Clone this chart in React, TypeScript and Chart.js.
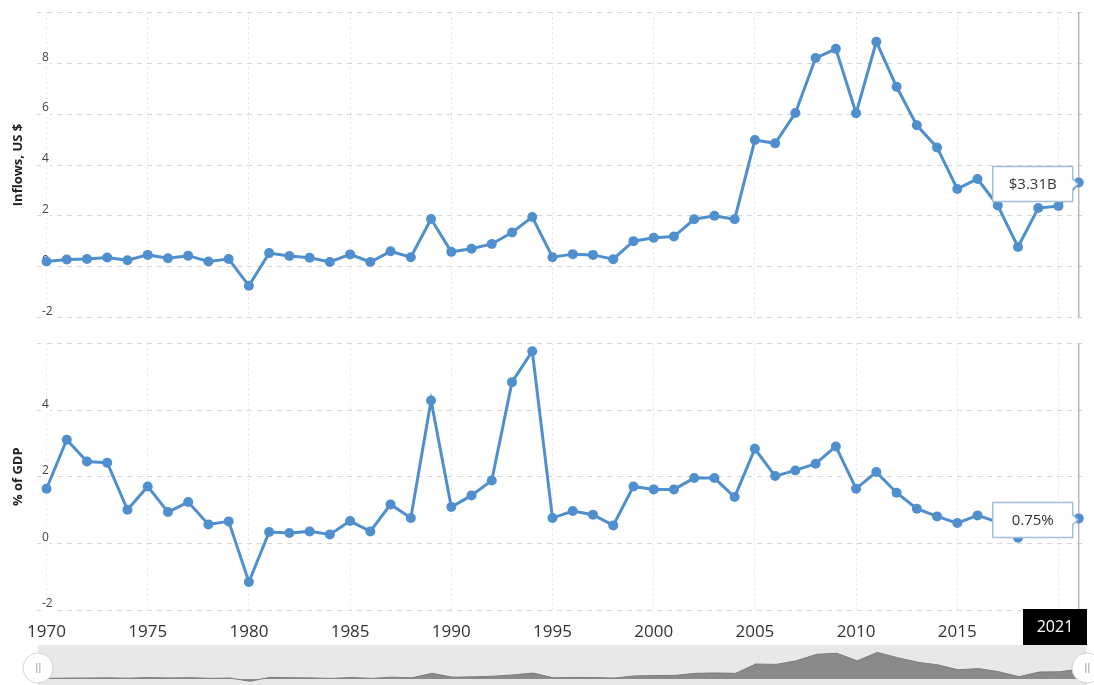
import React, { useEffect, useRef } from 'react';
import { Chart, registerables } from 'chart.js';

Chart.register(...registerables);

const years = [
  1970, 1971, 1972, 1973, 1974, 1975, 1976, 1977, 1978, 1979,
  1980, 1981, 1982, 1983, 1984, 1985, 1986, 1987, 1988, 1989,
  1990, 1991, 1992, 1993, 1994, 1995, 1996, 1997, 1998, 1999,
  2000, 2001, 2002, 2003, 2004, 2005, 2006, 2007, 2008, 2009,
  2010, 2011, 2012, 2013, 2014, 2015, 2016, 2017, 2018, 2019,
  2020, 2021,
];

// FDI inflows, billions of US $
const inflowsB = [
  0.21, 0.29, 0.31, 0.37, 0.26, 0.47, 0.34, 0.44, 0.21, 0.31,
  -0.74, 0.54, 0.43, 0.36, 0.19, 0.49, 0.19, 0.61, 0.38, 1.88,
  0.59, 0.71, 0.9, 1.35, 1.96, 0.38, 0.5, 0.47, 0.3, 1.01,
  1.14, 1.19, 1.87, 2.01, 1.87, 4.98, 4.85, 6.04, 8.2, 8.56,
  6.03, 8.84, 7.07, 5.56, 4.69, 3.06, 3.45, 2.41, 0.78, 2.31,
  2.39, 3.31,
];

// FDI inflows, % of GDP
const gdpPct = [
  1.64, 3.11, 2.46, 2.42, 1.01, 1.71, 0.94, 1.24, 0.57, 0.66,
  -1.16, 0.34, 0.31, 0.36, 0.27, 0.67, 0.36, 1.17, 0.76, 4.29,
  1.09, 1.44, 1.89, 4.84, 5.77, 0.76, 0.97, 0.86, 0.54, 1.71,
  1.62, 1.62, 1.96, 1.96, 1.39, 2.84, 2.02, 2.19, 2.39, 2.91,
  1.64, 2.14, 1.52, 1.04, 0.81, 0.61, 0.84, 0.64, 0.17, 0.51,
  0.54, 0.75,
];

const xTickYears = [1970, 1975, 1980, 1985, 1990, 1995, 2000, 2005, 2010, 2015];
const xGridYears = [1970, 1975, 1980, 1985, 1990, 1995, 2000, 2005, 2010, 2015, 2020];
const lastYearLabel = '2021';
const topYTicks = [-2, 0, 2, 4, 6, 8, 10];
const bottomYTicks = [-2, 0, 2, 4, 6];

const LINE = '#4f8fce';
const FONT = "'Open Sans', 'DejaVu Sans', sans-serif";
const W = 1094;
const X_MIN = 1969.53;
const X_MAX = 2021.36;

const toPoints = (vals: number[]) => years.map((y, i) => ({ x: y, y: vals[i] }));

const crosshairPlugin = {
  id: 'crosshair',
  beforeDatasetsDraw(chart: any) {
    const meta = chart.getDatasetMeta(0);
    const pt = meta.data[meta.data.length - 1];
    const { ctx, chartArea } = chart;
    ctx.save();
    ctx.strokeStyle = '#b8b8b8';
    ctx.lineWidth = 1.5;
    ctx.beginPath();
    ctx.moveTo(pt.x, chartArea.top);
    ctx.lineTo(pt.x, chartArea.bottom);
    ctx.stroke();
    ctx.restore();
  },
};

const makeValueBox = (fmt: (v: number) => string) => ({
  id: 'valueBox',
  afterDatasetsDraw(chart: any) {
    const meta = chart.getDatasetMeta(0);
    const idx = meta.data.length - 1;
    const pt = meta.data[idx];
    const v = chart.data.datasets[0].data[idx].y;
    const { ctx } = chart;
    const right = pt.x - 6;
    const left = right - 80;
    const top = pt.y - 16;
    const bottom = pt.y + 19;
    const mid = (top + bottom) / 2;
    ctx.save();
    ctx.beginPath();
    ctx.moveTo(left, top);
    ctx.lineTo(right, top);
    ctx.lineTo(right, mid - 5);
    ctx.lineTo(right + 5, mid);
    ctx.lineTo(right, mid + 5);
    ctx.lineTo(right, bottom);
    ctx.lineTo(left, bottom);
    ctx.closePath();
    ctx.fillStyle = '#ffffff';
    ctx.fill();
    ctx.strokeStyle = '#a3bfdc';
    ctx.lineWidth = 1.5;
    ctx.stroke();
    ctx.fillStyle = '#333333';
    ctx.font = `15px ${FONT}`;
    ctx.textAlign = 'center';
    ctx.textBaseline = 'middle';
    ctx.fillText(fmt(v), (left + right) / 2, mid + 1);
    ctx.restore();
  },
});

const yearBoxPlugin = {
  id: 'yearBox',
  afterDraw(chart: any) {
    const meta = chart.getDatasetMeta(0);
    const pt = meta.data[meta.data.length - 1];
    const { ctx, chartArea } = chart;
    const right = Math.min(pt.x + 9, chart.width - 7);
    const left = right - 64;
    const top = chartArea.bottom - 1;
    const h = 36;
    ctx.save();
    ctx.fillStyle = '#000000';
    ctx.fillRect(left, top, right - left, h);
    ctx.fillStyle = '#ffffff';
    ctx.font = `16px ${FONT}`;
    ctx.textAlign = 'center';
    ctx.textBaseline = 'middle';
    ctx.fillText(lastYearLabel, (left + right) / 2, top + h / 2);
    ctx.restore();
  },
};

function panelOptions(yMin: number, yMax: number, yTicks: number[], title: string, padTop: number, showX: boolean) {
  return {
    responsive: false,
    maintainAspectRatio: false,
    animation: false,
    layout: { padding: { top: padTop, right: 8, bottom: 0, left: 0 } },
    plugins: { legend: { display: false }, tooltip: { enabled: false } },
    scales: {
      x: {
        type: 'linear',
        min: X_MIN,
        max: X_MAX,
        afterBuildTicks: (s: any) => {
          s.ticks = xGridYears.map((v) => ({ value: v }));
        },
        afterFit: (s: any) => {
          s.height = showX ? 35 : 10;
        },
        grid: { color: '#e4e4e4', lineWidth: 1, drawTicks: false },
        border: { display: false, dash: [2, 3] },
        ticks: {
          display: showX,
          padding: 12,
          color: '#333333',
          font: { family: FONT, size: 17 },
          maxRotation: 0,
          autoSkip: false,
          callback: (v: number) => (xTickYears.includes(v) ? String(v) : ''),
        },
      },
      y: {
        min: yMin,
        max: yMax,
        afterBuildTicks: (s: any) => {
          s.ticks = yTicks.map((v) => ({ value: v }));
        },
        afterFit: (s: any) => {
          s.width = 37;
        },
        grid: { color: '#d6d6d6', lineWidth: 1, drawTicks: false },
        border: { display: false, dash: [5, 5] },
        ticks: {
          mirror: true,
          padding: 5,
          labelOffset: -6,
          color: '#444444',
          font: { family: FONT, size: 12 },
          showLabelBackdrop: true,
          backdropColor: '#ffffff',
          backdropPadding: 1,
          callback: (v: number) => (v === yMax ? '' : String(v)),
        },
        title: {
          display: true,
          text: title,
          color: '#222222',
          font: { family: FONT, size: 13, weight: 'bold' },
          padding: { top: 10, bottom: 0 },
        },
      },
    },
  };
}

function lineDataset(vals: number[]) {
  return {
    data: toPoints(vals),
    borderColor: LINE,
    backgroundColor: LINE,
    borderWidth: 3,
    pointRadius: 5,
    pointBackgroundColor: LINE,
    pointBorderColor: LINE,
    pointBorderWidth: 0,
    tension: 0,
  };
}

const navPlugin = {
  id: 'navBg',
  beforeDraw(chart: any) {
    const { ctx, chartArea } = chart;
    ctx.save();
    ctx.fillStyle = '#e8e8e8';
    ctx.fillRect(chartArea.left, 0, chartArea.right - chartArea.left, chart.height);
    ctx.restore();
  },
  afterDraw(chart: any) {
    const { ctx, chartArea } = chart;
    const cy = 23;
    [chartArea.left, chartArea.right].forEach((cx: number) => {
      ctx.save();
      ctx.beginPath();
      ctx.arc(cx, cy, 15, 0, Math.PI * 2);
      ctx.fillStyle = '#ffffff';
      ctx.fill();
      ctx.strokeStyle = '#d4d4d4';
      ctx.lineWidth = 1;
      ctx.stroke();
      ctx.fillStyle = '#c2c2c2';
      ctx.fillRect(cx - 2, cy - 5, 1.5, 10);
      ctx.fillRect(cx + 1, cy - 5, 1.5, 10);
      ctx.restore();
    });
  },
};

export default function App() {
  const topRef = useRef<HTMLCanvasElement>(null);
  const botRef = useRef<HTMLCanvasElement>(null);
  const navRef = useRef<HTMLCanvasElement>(null);

  useEffect(() => {
    const top = new Chart(topRef.current as HTMLCanvasElement, {
      type: 'line',
      data: { datasets: [lineDataset(inflowsB)] },
      options: panelOptions(-2, 10, topYTicks, 'Inflows, US $', 12, false) as any,
      plugins: [crosshairPlugin, makeValueBox((v) => `$${v.toFixed(2)}B`)],
    });
    const bot = new Chart(botRef.current as HTMLCanvasElement, {
      type: 'line',
      data: { datasets: [lineDataset(gdpPct)] },
      options: panelOptions(-2, 6, bottomYTicks, '% of GDP', 13.5, true) as any,
      plugins: [crosshairPlugin, makeValueBox((v) => `${v.toFixed(2)}%`), yearBoxPlugin],
    });
    const nav = new Chart(navRef.current as HTMLCanvasElement, {
      type: 'line',
      data: {
        datasets: [
          {
            data: toPoints(inflowsB),
            borderColor: '#7c7c7c',
            backgroundColor: '#8a8a8a',
            borderWidth: 1,
            pointRadius: 0,
            fill: 'origin',
            tension: 0,
          },
        ],
      },
      options: {
        responsive: false,
        maintainAspectRatio: false,
        animation: false,
        layout: { padding: { top: 0, right: 7, bottom: 0, left: 38 } },
        plugins: { legend: { display: false }, tooltip: { enabled: false } },
        scales: {
          x: { type: 'linear', display: false, min: X_MIN, max: X_MAX },
          y: { display: false, min: -2, max: 11.3 },
        },
      } as any,
      plugins: [navPlugin],
    });
    return () => {
      top.destroy();
      bot.destroy();
      nav.destroy();
    };
  }, []);

  return (
    <div style={{ position: 'absolute', left: 0, top: 0, width: W, height: 685, background: '#ffffff', overflow: 'hidden' }}>
      <canvas ref={topRef} width={W} height={330} style={{ position: 'absolute', left: 0, top: 0, width: W, height: 330 }} />
      <canvas ref={botRef} width={W} height={315} style={{ position: 'absolute', left: 0, top: 330, width: W, height: 315 }} />
      <canvas ref={navRef} width={W} height={40} style={{ position: 'absolute', left: 0, top: 645, width: W, height: 40 }} />
    </div>
  );
}
